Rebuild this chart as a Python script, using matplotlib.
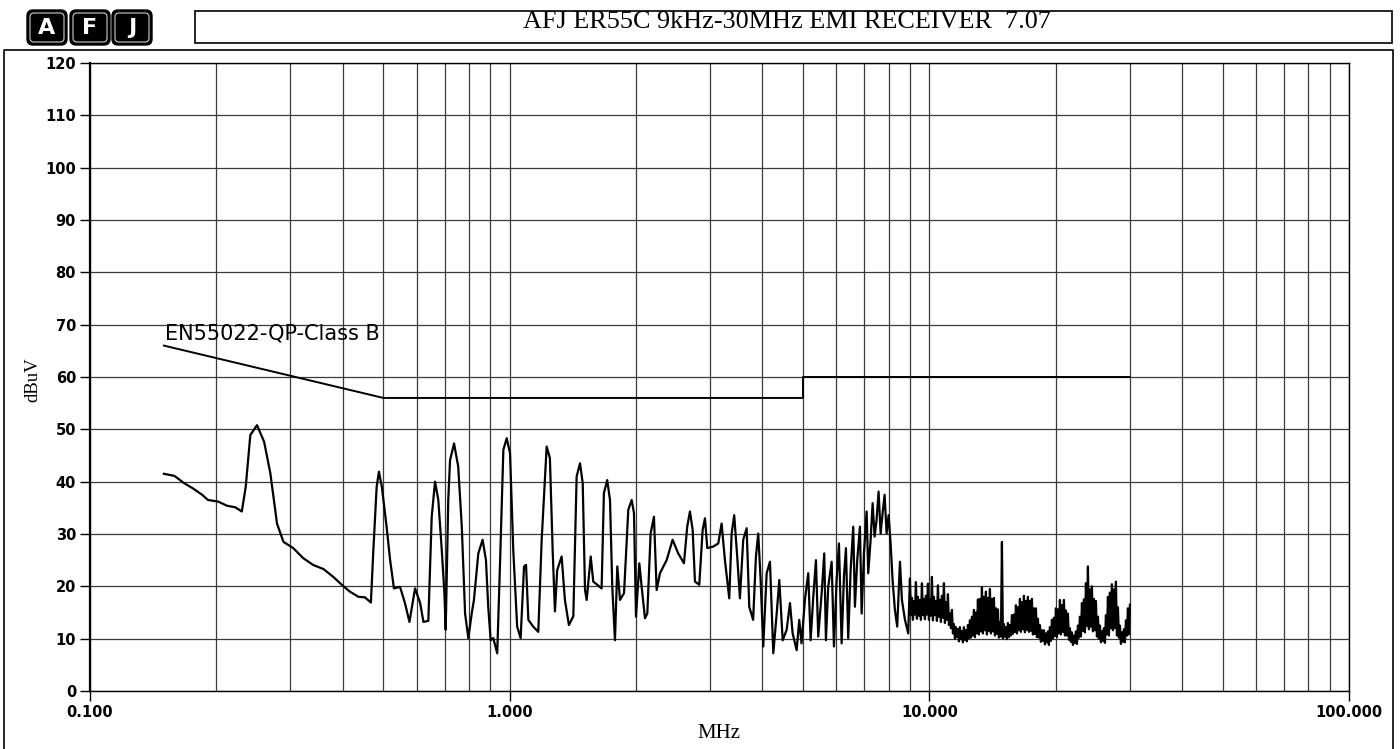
import numpy as np
import matplotlib
matplotlib.use("Agg")
import matplotlib.pyplot as plt
from matplotlib.patches import FancyBboxPatch, Rectangle
from matplotlib.lines import Line2D
from matplotlib.transforms import IdentityTransform
from matplotlib.ticker import LogLocator, NullFormatter

# ---------------- data ----------------
title_text = "AFJ ER55C 9kHz-30MHz EMI RECEIVER  7.07"
limit_name = "EN55022-QP-Class B"
x_ticks = [0.1, 1, 10, 100]
x_tick_labels = ["0.100", "1.000", "10.000", "100.000"]
y_ticks = list(range(0, 121, 10))

limit_freq = [0.15, 0.5, 0.5, 5.0, 5.0, 30.0]
limit_level = [66, 56, 56, 56, 60, 60]

freq_a = [0.150, 0.159, 0.167, 0.176, 0.185, 0.191, 0.202, 0.212, 0.222, 0.230,
          0.235, 0.241, 0.250, 0.260, 0.269, 0.279, 0.289, 0.305, 0.322, 0.340,
          0.360, 0.380, 0.398, 0.416, 0.436, 0.452, 0.467, 0.473, 0.482, 0.488, 0.496]
level_a = [41.5, 41.1, 39.8, 38.7, 37.5, 36.5, 36.2, 35.4, 35.1, 34.3,
           39.0, 48.9, 50.8, 47.6, 41.6, 32.0, 28.5, 27.3, 25.4, 24.1,
           23.3, 21.8, 20.3, 19.0, 18.0, 17.9, 16.9, 26.4, 39.0, 41.9, 39.0]

freq_b = [0.509, 0.519, 0.530, 0.548, 0.563, 0.577, 0.595, 0.612, 0.623, 0.640,
          0.652, 0.664, 0.676, 0.689, 0.699, 0.704, 0.714, 0.721, 0.737, 0.754,
          0.769, 0.783, 0.797, 0.812, 0.822, 0.842, 0.862, 0.878, 0.889, 0.901,
          0.914, 0.934, 0.948, 0.966, 0.984]
level_b = [31.4, 25.0, 19.6, 19.9, 16.8, 13.2, 19.6, 16.8, 13.2, 13.4,
           33.3, 40.0, 36.5, 26.9, 18.7, 11.7, 36.5, 44.1, 47.3, 42.9,
           31.4, 14.8, 10.1, 14.8, 17.4, 26.3, 28.9, 25.0, 16.1, 9.7,
           10.1, 7.2, 23.8, 46.1, 48.3]

freq_c = [1.002, 1.020, 1.042, 1.062, 1.082, 1.094, 1.108, 1.138, 1.170, 1.192,
          1.225, 1.247, 1.266, 1.282, 1.298, 1.330, 1.354, 1.384, 1.418, 1.444,
          1.471, 1.493, 1.512, 1.526, 1.560, 1.582, 1.617, 1.656, 1.677, 1.708,
          1.734, 1.756, 1.782, 1.805, 1.832, 1.873, 1.917, 1.953, 1.978]
level_c = [45.4, 26.9, 12.3, 10.1, 23.8, 24.1, 13.6, 12.3, 11.3, 28.9,
           46.7, 44.5, 26.9, 15.2, 23.1, 25.7, 17.4, 12.6, 14.3, 41.0,
           43.5, 39.7, 19.3, 17.4, 25.7, 20.9, 20.3, 19.6, 37.8, 40.3,
           36.5, 19.9, 9.7, 23.8, 17.4, 18.7, 34.6, 36.5, 34.0]

freq_d = [2.000, 2.037, 2.063, 2.101, 2.128, 2.167, 2.207, 2.240, 2.281, 2.366,
          2.445, 2.521, 2.602, 2.649, 2.689, 2.729, 2.764, 2.830, 2.883, 2.920,
          2.957, 3.055, 3.141, 3.199, 3.258, 3.336, 3.380, 3.428, 3.485, 3.537,
          3.602, 3.670, 3.723, 3.803, 3.862, 3.911, 3.963, 4.020, 4.096, 4.171,
          4.248, 4.328, 4.390, 4.473, 4.571, 4.655, 4.724, 4.829, 4.898, 4.960]
level_d = [14.2, 24.4, 19.9, 13.9, 14.8, 30.1, 33.3, 19.3, 22.5, 25.0,
           28.9, 26.3, 24.4, 31.4, 34.3, 30.8, 20.9, 20.3, 30.8, 33.0,
           27.3, 27.6, 28.2, 32.0, 25.0, 17.7, 30.1, 33.6, 25.7, 17.7,
           28.9, 31.1, 16.1, 13.6, 25.7, 30.1, 21.2, 8.5, 22.5, 24.7,
           7.2, 14.8, 21.2, 9.7, 11.7, 16.8, 11.0, 7.8, 13.6, 9.1]

freq_e = [5.053, 5.146, 5.214, 5.290, 5.368, 5.436, 5.539, 5.618, 5.670, 5.742,
          5.851, 5.925, 6.013, 6.090, 6.180, 6.259, 6.328, 6.408, 6.493, 6.587,
          6.648, 6.733, 6.833, 6.898, 6.985, 7.089, 7.152, 7.246, 7.326, 7.406,
          7.487, 7.570, 7.655, 7.738, 7.823, 7.910, 7.998, 8.085, 8.174, 8.279,
          8.384, 8.511, 8.604, 8.748, 8.906]
level_e = [17.4, 22.5, 9.7, 18.0, 25.0, 10.4, 18.7, 26.3, 9.7, 19.9,
           24.7, 8.5, 21.2, 28.2, 9.1, 21.8, 27.3, 10.1, 23.1, 31.4,
           16.1, 25.0, 31.4, 14.8, 26.3, 34.3, 22.5, 28.9, 35.9, 29.5,
           32.7, 38.1, 30.1, 34.0, 37.5, 30.1, 33.6, 28.2, 21.2, 15.5,
           12.3, 24.7, 17.4, 13.6, 11.0]

# dense receiver sweep 9 - 30 MHz (log-spaced receiver steps)
sweep_start = 8.99
sweep_stop = 30.06
level_f = [21.5, 14.5, 17.8, 13.6, 17.2, 14.6, 20.8, 13.8, 18.0, 14.4,
           17.4, 13.6, 20.6, 14.5, 17.6, 13.7, 18.2, 14.6, 20.5, 13.6,
           17.6, 14.4, 21.8, 13.5, 18.0, 14.5, 17.2, 13.4, 20.2, 14.2,
           17.4, 13.2, 18.2, 14.0, 20.6, 13.0, 17.0, 13.6, 18.5, 12.6,
           14.8, 12.0, 15.5, 11.0, 12.8, 10.0, 12.2, 10.3, 11.8, 9.5,
           12.2, 9.9, 11.4, 9.3, 12.2, 9.8, 11.6, 9.5, 12.6, 10.1,
           13.5, 10.2, 14.2, 10.6, 15.5, 10.3, 15.0, 11.0, 17.5, 10.8,
           17.6, 11.4, 19.8, 11.0, 18.0, 11.6, 19.0, 10.8, 17.8, 11.5,
           19.5, 11.0, 17.6, 11.4, 17.8, 10.6, 15.8, 10.9, 15.6, 10.2,
           13.2, 10.4, 28.5, 10.1, 12.8, 10.4, 12.2, 9.9, 13.0, 10.3,
           12.6, 10.6, 14.5, 10.9, 14.6, 11.3, 16.4, 11.0, 16.0, 11.6,
           17.6, 11.3, 17.0, 11.8, 18.2, 11.2, 17.2, 11.7, 18.0, 11.3,
           17.2, 11.5, 17.6, 10.8, 15.8, 10.9, 15.8, 10.3, 13.8, 10.2,
           12.6, 9.4, 11.6, 9.6, 11.6, 8.9, 11.0, 9.3, 11.4, 8.8,
           12.2, 9.6, 13.6, 10.0, 14.0, 10.5, 15.8, 10.3, 15.6, 11.0,
           17.4, 10.8, 16.4, 11.3, 17.4, 10.6, 15.4, 10.6, 14.8, 9.8,
           12.0, 9.4, 11.2, 8.8, 10.6, 9.2, 11.4, 9.0, 12.5, 10.2,
           14.2, 10.4, 16.8, 11.5, 17.5, 11.2, 20.6, 12.4, 23.8, 11.8,
           19.4, 12.3, 20.0, 11.4, 17.6, 11.6, 17.2, 10.4, 14.2, 10.0,
           12.5, 9.3, 11.4, 9.6, 12.0, 9.2, 14.5, 10.8, 18.0, 10.6,
           18.8, 12.0, 20.4, 11.6, 19.4, 12.0, 20.9, 10.6, 16.0, 10.2,
           12.5, 9.0, 11.2, 9.4, 11.8, 9.3, 13.5, 10.6, 15.8, 10.8,
           16.5]
freq_f = np.geomspace(sweep_start, sweep_stop, len(level_f))

trace_freq = np.concatenate([freq_a, freq_b, freq_c, freq_d, freq_e, freq_f])
trace_level = np.concatenate([level_a, level_b, level_c, level_d, level_e, level_f])

# ---------------- figure ----------------
W, H = 1400, 749
fig = plt.figure(figsize=(W / 100, H / 100), dpi=100)
fig.patch.set_facecolor("white")

ax = fig.add_axes([90 / W, 1 - 691 / H, (1349 - 90) / W, (691 - 63) / H])
ax.set_xscale("log")
ax.set_xlim(0.1, 100)
ax.set_ylim(0, 120)
ax.set_yticks(y_ticks)
ax.set_xticks(x_ticks)
ax.set_xticklabels(x_tick_labels)
ax.xaxis.set_minor_locator(LogLocator(base=10, subs=np.arange(2, 10), numticks=100))
ax.xaxis.set_minor_formatter(NullFormatter())
ax.tick_params(axis="x", which="minor", length=0)
ax.tick_params(axis="both", which="major", direction="out", length=7, width=1,
               pad=3, labelsize=10.5, colors="black")
for lab in ax.get_xticklabels() + ax.get_yticklabels():
    lab.set_fontfamily("DejaVu Sans")
    lab.set_fontweight("bold")
ax.grid(True, which="both", color="#3a3a3a", lw=0.9)
ax.set_axisbelow(True)
for s in ax.spines.values():
    s.set_color("black")
    s.set_linewidth(1.0)
ax.spines["left"].set_linewidth(1.6)

ax.plot(limit_freq, limit_level, color="black", lw=1.4)
ax.text(0.151, 67.1, limit_name, fontsize=15, family="DejaVu Sans",
        va="baseline", ha="left", color="black")
ax.plot(trace_freq, trace_level, color="black", lw=1.6)

# axis labels
fig.text(719 / W, 1 - 733 / H, "MHz", fontsize=15, family="Liberation Serif",
         ha="center", va="center")
fig.text(33 / W, 1 - 380 / H, "dBuV", fontsize=13.5, family="Liberation Serif",
         ha="center", va="center", rotation=90)

# ---------------- header / frame ----------------
pix = IdentityTransform()
fig.add_artist(Line2D([4, 4, 1393, 1393], [0, H - 50, H - 50, 0], color="black",
                      lw=1.2, transform=pix))
fig.add_artist(Rectangle((195, H - 43), 1197, 32, fill=False, ec="black", lw=1.2,
                         transform=pix))
fig.text(787, H - 22, title_text, fontsize=18.8, family="Liberation Serif",
         ha="center", va="center", transform=pix)

for x0, letter in [(27, "A"), (70, "F"), (112, "J")]:
    fig.add_artist(FancyBboxPatch((x0, H - 45), 40, 35,
                                  boxstyle="round,pad=0,rounding_size=6",
                                  fc="black", ec="black", lw=1, transform=pix))
    fig.add_artist(FancyBboxPatch((x0 + 3, H - 42), 34, 29,
                                  boxstyle="round,pad=0,rounding_size=4",
                                  fc="none", ec="#cccccc", lw=0.8, transform=pix))
    fig.text(x0 + 20, H - 27.5, letter, fontsize=16, family="DejaVu Sans",
             fontweight="bold", color="white", ha="center", va="center",
             transform=pix)

fig.savefig("out.png", dpi=100, facecolor="white")
